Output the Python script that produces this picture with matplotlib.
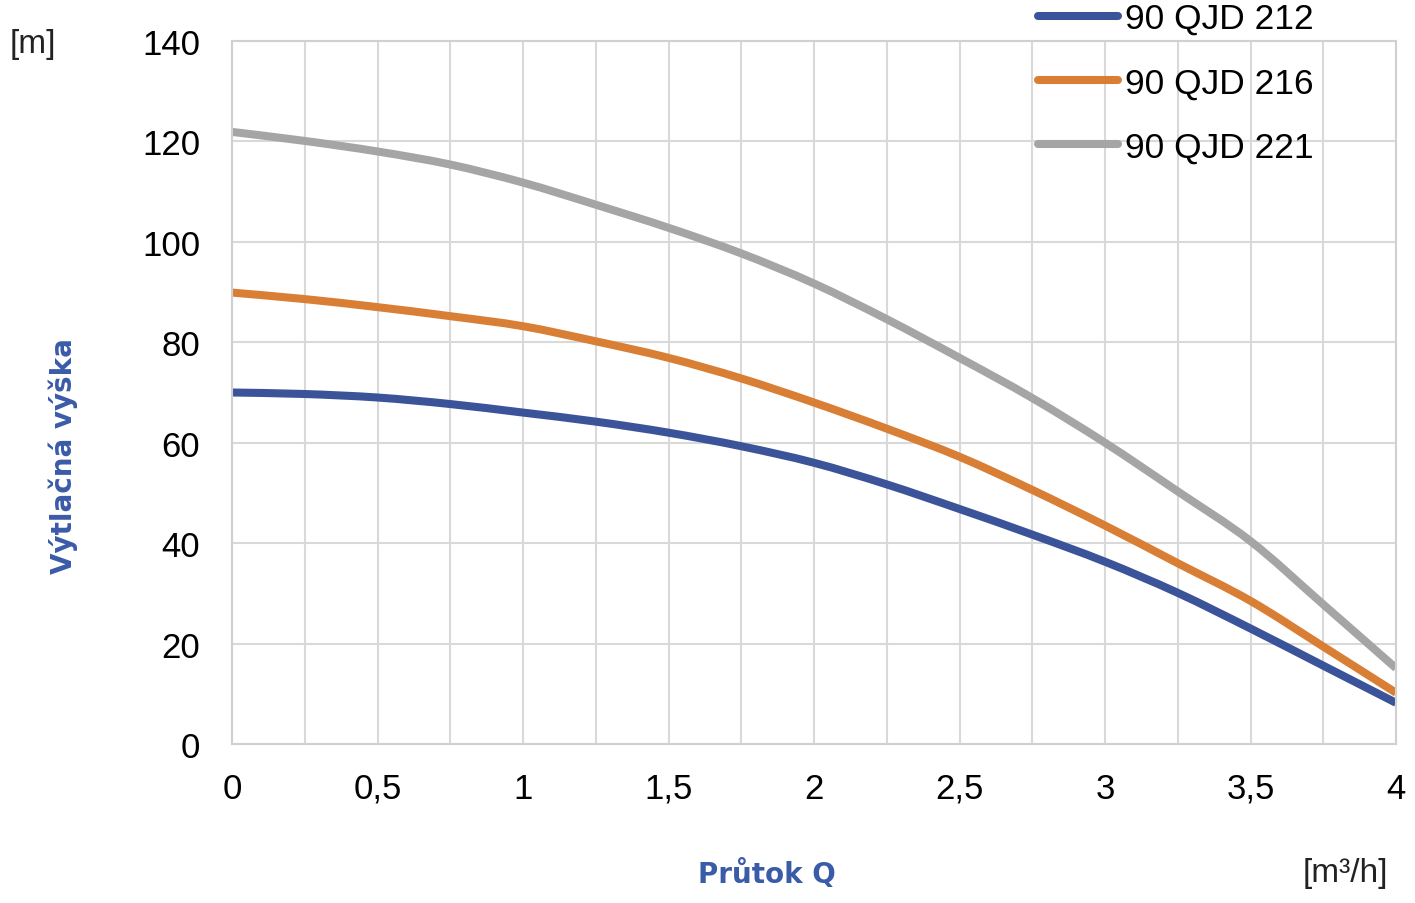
import numpy as np
import matplotlib.pyplot as plt
from matplotlib.ticker import MultipleLocator, FuncFormatter
from matplotlib.path import Path
from matplotlib.patches import PathPatch
from matplotlib.lines import Line2D

# flow Q [m3/h] and head [m]
q = [0, 0.25, 0.5, 0.75, 1, 1.25, 1.5, 1.75, 2, 2.25, 2.5, 2.75, 3, 3.25, 3.5, 3.75, 4]
h_212 = [70, 69.7, 69, 67.7, 66, 64.2, 62, 59.3, 56, 51.7, 46.8, 41.7, 36.3, 30.1, 23, 15.6, 8.2]
h_216 = [89.9, 88.6, 87, 85.2, 83.2, 80.2, 76.9, 72.8, 68, 62.8, 57.2, 50.6, 43.5, 36, 28.5, 19.4, 10.2]
h_221 = [121.9, 120.1, 118, 115.4, 111.8, 107.4, 102.8, 97.7, 91.7, 84.6, 76.9, 68.9, 60, 50.3, 40.4, 27.8, 15.1]
labels = ['90 QJD 212', '90 QJD 216', '90 QJD 221']
colors = ['#3B5399', '#D97F35', '#A5A5A5']


def smooth_path(x, y):
    # Excel style smoothed line: cubic Bezier segments through the points
    p = np.column_stack([x, y]).astype(float)
    ext = np.vstack([p[0], p, p[-1]])
    verts = [p[0]]
    codes = [Path.MOVETO]
    for i in range(len(p) - 1):
        a, b, c, d = ext[i], ext[i + 1], ext[i + 2], ext[i + 3]
        verts += [b + (c - a) / 6, c - (d - b) / 6, c]
        codes += [Path.CURVE4] * 3
    return Path(verts, codes)


plt.rcParams['font.family'] = ['Liberation Sans', 'DejaVu Sans']

fig = plt.figure(figsize=(14.15, 9.04), dpi=100)
ax = fig.add_axes([232/1415, 1-745/904, (1396-232)/1415, (745-42)/904])

handles = []
for h, lab, c in zip([h_212, h_216, h_221], labels, colors):
    ax.add_patch(PathPatch(smooth_path(q, h), fill=False, edgecolor=c, lw=5.8,
                           capstyle='butt', joinstyle='round'))
    handles.append(Line2D([], [], color=c, lw=5.8, solid_capstyle='round', label=lab))

ax.set_xlim(0, 4)
ax.set_ylim(0, 140)
ax.xaxis.set_major_locator(MultipleLocator(0.5))
ax.xaxis.set_minor_locator(MultipleLocator(0.25))
ax.yaxis.set_major_locator(MultipleLocator(20))
ax.xaxis.set_major_formatter(FuncFormatter(lambda v, p: ('%g' % v).replace('.', ',')))

ax.grid(True, which='both', axis='x', color='#d9d9d9', lw=1.5)
ax.grid(True, which='major', axis='y', color='#d9d9d9', lw=1.5)
ax.set_axisbelow(True)
for s in ax.spines.values():
    s.set_color('#d0d0d0')
    s.set_linewidth(1.5)

ax.tick_params(which='both', length=0, labelsize=25, colors='black')
ax.tick_params(axis='x', pad=20)
ax.tick_params(axis='y', pad=23)

fig.text(33/1415, 1-45/904, '[m]', fontsize=24, ha='center', va='center', color='#222222')
fig.text(1345/1415, 1-874/904, '[m³/h]', fontsize=24, ha='center', va='center', color='#222222')
fig.text(767/1415, 1-874/904, 'Průtok Q', fontsize=20, fontweight='bold',
         family='DejaVu Sans', color='#3A5BA8', ha='center', va='center')
fig.text(63/1415, 1-456/904, 'Výtlačná výška', fontsize=20, fontweight='bold',
         family='DejaVu Sans', color='#3A5BA8', ha='center', va='center', rotation=90)

fig.legend(handles=handles, loc='upper left', bbox_to_anchor=(1038/1415, 0.9965), frameon=False,
           fontsize=25.5, handlelength=2.25, handletextpad=0.2, labelspacing=0.88,
           borderpad=0, borderaxespad=0)

fig.savefig('out.png', dpi=100)
